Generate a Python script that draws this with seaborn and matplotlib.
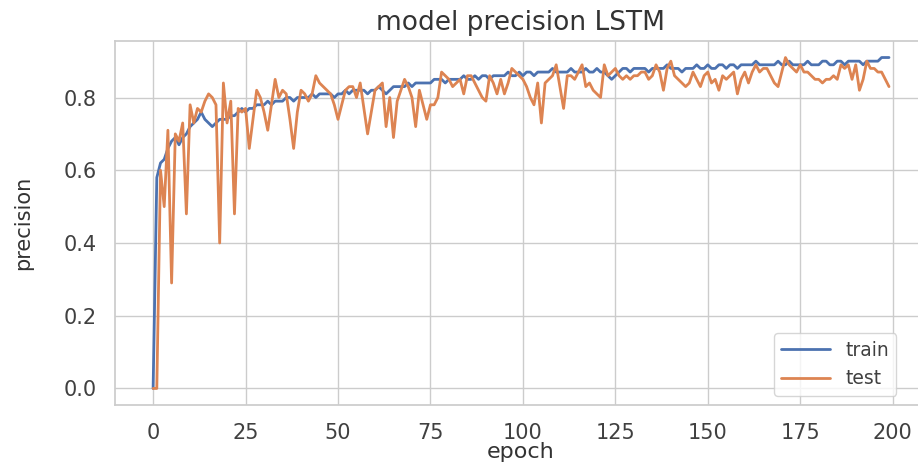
import numpy as np
import pandas as pd
import seaborn as sns
import matplotlib.pyplot as plt

sns.set_theme(style="whitegrid")
plt.rcParams['font.family'] = ['DejaVu Sans']

# precision per epoch
train = [
    0.00, 0.58, 0.62, 0.63, 0.66, 0.68, 0.69, 0.67, 0.69, 0.70,
    0.72, 0.73, 0.74, 0.76, 0.74, 0.73, 0.72, 0.73, 0.74, 0.74,
    0.74, 0.75, 0.75, 0.76, 0.77, 0.76, 0.77, 0.77, 0.78, 0.78,
    0.78, 0.79, 0.78, 0.79, 0.79, 0.79, 0.80, 0.80, 0.79, 0.80,
    0.80, 0.80, 0.80, 0.81, 0.80, 0.81, 0.81, 0.81, 0.81, 0.80,
    0.81, 0.81, 0.82, 0.81, 0.82, 0.82, 0.82, 0.82, 0.81, 0.82,
    0.82, 0.83, 0.82, 0.81, 0.82, 0.83, 0.83, 0.83, 0.83, 0.84,
    0.83, 0.84, 0.84, 0.84, 0.84, 0.84, 0.85, 0.85, 0.85, 0.84,
    0.85, 0.85, 0.85, 0.85, 0.86, 0.85, 0.85, 0.86, 0.85, 0.86,
    0.86, 0.85, 0.86, 0.86, 0.86, 0.86, 0.87, 0.86, 0.86, 0.87,
    0.86, 0.87, 0.87, 0.86, 0.87, 0.87, 0.87, 0.87, 0.88, 0.87,
    0.87, 0.87, 0.87, 0.88, 0.87, 0.87, 0.87, 0.88, 0.87, 0.87,
    0.88, 0.87, 0.87, 0.86, 0.85, 0.86, 0.87, 0.88, 0.88, 0.87,
    0.88, 0.88, 0.88, 0.88, 0.87, 0.88, 0.88, 0.88, 0.88, 0.89,
    0.88, 0.88, 0.88, 0.87, 0.88, 0.88, 0.88, 0.89, 0.88, 0.88,
    0.89, 0.88, 0.88, 0.89, 0.89, 0.88, 0.89, 0.89, 0.88, 0.89,
    0.89, 0.89, 0.89, 0.90, 0.89, 0.89, 0.89, 0.89, 0.89, 0.90,
    0.89, 0.89, 0.90, 0.89, 0.89, 0.89, 0.89, 0.90, 0.89, 0.89,
    0.89, 0.90, 0.90, 0.89, 0.89, 0.90, 0.90, 0.89, 0.90, 0.90,
    0.90, 0.90, 0.89, 0.90, 0.90, 0.90, 0.90, 0.91, 0.91, 0.91,
]
test = [
    0.00, 0.00, 0.60, 0.50, 0.71, 0.29, 0.70, 0.68, 0.73, 0.48,
    0.78, 0.73, 0.77, 0.76, 0.79, 0.81, 0.80, 0.78, 0.40, 0.84,
    0.73, 0.79, 0.48, 0.77, 0.76, 0.77, 0.66, 0.74, 0.82, 0.80,
    0.76, 0.71, 0.78, 0.85, 0.80, 0.82, 0.81, 0.74, 0.66, 0.76,
    0.82, 0.81, 0.79, 0.81, 0.86, 0.84, 0.83, 0.82, 0.81, 0.78,
    0.74, 0.78, 0.82, 0.83, 0.83, 0.80, 0.84, 0.77, 0.70, 0.76,
    0.82, 0.83, 0.84, 0.72, 0.80, 0.69, 0.79, 0.82, 0.85, 0.83,
    0.80, 0.72, 0.82, 0.78, 0.74, 0.78, 0.78, 0.80, 0.87, 0.86,
    0.85, 0.83, 0.84, 0.85, 0.81, 0.86, 0.86, 0.84, 0.82, 0.80,
    0.79, 0.86, 0.84, 0.81, 0.85, 0.81, 0.84, 0.88, 0.87, 0.86,
    0.85, 0.83, 0.80, 0.78, 0.84, 0.73, 0.84, 0.85, 0.86, 0.89,
    0.83, 0.77, 0.86, 0.86, 0.85, 0.87, 0.89, 0.83, 0.84, 0.82,
    0.81, 0.80, 0.89, 0.86, 0.87, 0.88, 0.86, 0.85, 0.86, 0.85,
    0.86, 0.86, 0.87, 0.87, 0.85, 0.86, 0.89, 0.87, 0.82, 0.88,
    0.90, 0.86, 0.85, 0.84, 0.83, 0.84, 0.87, 0.85, 0.83, 0.86,
    0.87, 0.84, 0.85, 0.82, 0.86, 0.85, 0.86, 0.87, 0.81, 0.85,
    0.87, 0.84, 0.87, 0.89, 0.87, 0.88, 0.88, 0.86, 0.84, 0.83,
    0.87, 0.91, 0.89, 0.88, 0.87, 0.89, 0.87, 0.87, 0.86, 0.85,
    0.85, 0.84, 0.85, 0.85, 0.86, 0.85, 0.89, 0.88, 0.89, 0.85,
    0.89, 0.82, 0.85, 0.90, 0.88, 0.88, 0.87, 0.87, 0.85, 0.83,
]
epochs = np.arange(len(train))

df = pd.DataFrame({'epoch': epochs, 'train': train, 'test': test})

fig = plt.figure(figsize=(9.18, 4.63), dpi=100)
ax = fig.add_axes([0.1253, 0.1253, 0.8834, 0.7862])

sns.lineplot(data=df, x='epoch', y='train', ax=ax, label='train', linewidth=2.0)
sns.lineplot(data=df, x='epoch', y='test', ax=ax, label='test', linewidth=2.0)

ax.set_xlim(-10.3, 209)
ax.set_xticks([0, 25, 50, 75, 100, 125, 150, 175, 200])
ax.set_yticks([0.0, 0.2, 0.4, 0.6, 0.8])
ax.tick_params(axis='both', labelsize=15, pad=7, labelcolor='.25')

ax.set_title('model precision LSTM', fontsize=19, pad=8, color='.2')
ax.set_xlabel('epoch', fontsize=16, labelpad=-1, color='.2')
ax.set_ylabel('precision', fontsize=15, labelpad=22, color='.2')

ax.legend(loc='lower right', bbox_to_anchor=(0.975, 0.0), fontsize=13.5,
          handlelength=2.6, frameon=True, labelcolor='.25')

plt.savefig('out.png', dpi=100)
plt.close()
